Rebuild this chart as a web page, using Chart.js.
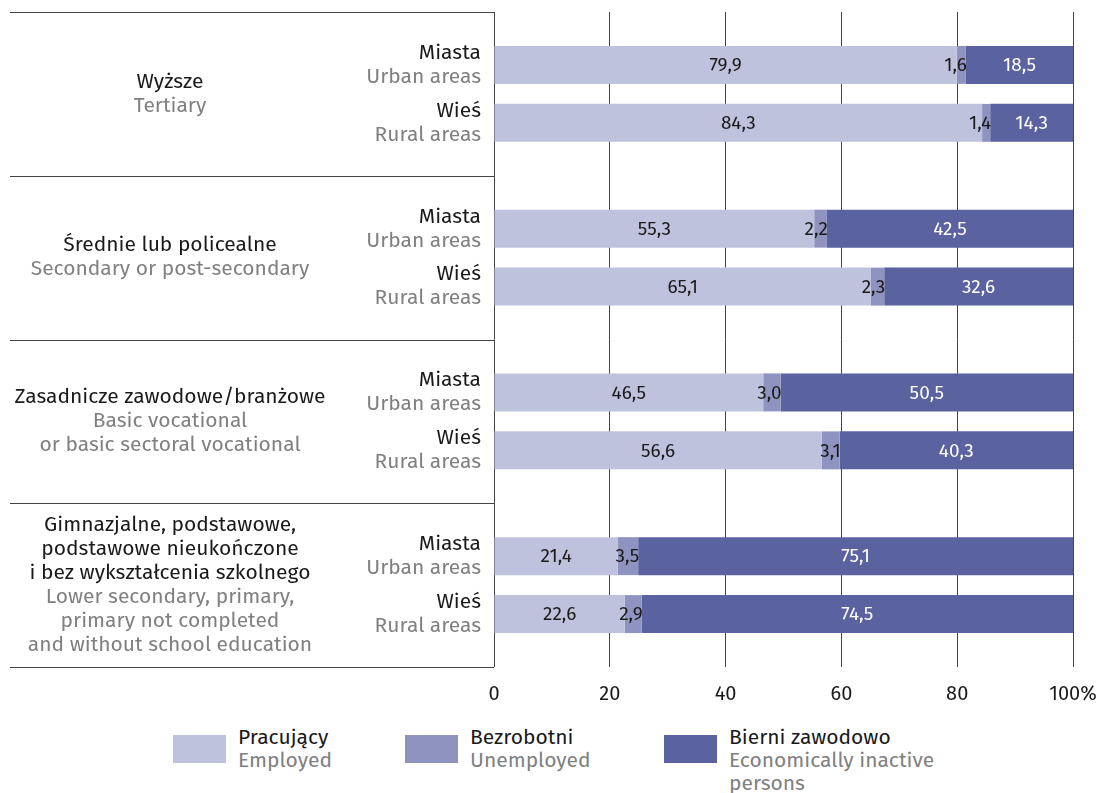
<!DOCTYPE html>
<html>
<head>
<meta charset="utf-8">
<script src="https://cdn.jsdelivr.net/npm/chart.js@4"></script>
<style>
    body { margin: 0; background: #fff; font-family: 'Fira Sans', 'Noto Sans', sans-serif; }
    .wrap { position: relative; width: 1109px; height: 793px; }
    .legend { position: absolute; top: 726px; left: 0; width: 1109px; }
    .item { position: absolute; top: 0; }
    .item .box { position: absolute; left: 0; top: 9px; width: 53px; height: 28px; }
    .item .txt { position: absolute; left: 65px; top: 0; font-size: 21px; line-height: 23px; color: #1a1a1a; white-space: nowrap; }
    .item .txt span { color: #808080; }
</style>
</head>
<body>
<div class="wrap">
    <canvas id="chart" width="1109" height="715"></canvas>
    <div class="legend" id="legend"></div>
</div>
<script>
// Dane
const groups = ['Wyższe', 'Średnie lub policealne', 'Zasadnicze zawodowe/branżowe', 'Gimnazjalne, podstawowe'];
const groupLabelsPl = [
    ['Wyższe'],
    ['Średnie lub policealne'],
    ['Zasadnicze zawodowe/branżowe'],
    ['Gimnazjalne, podstawowe,', 'podstawowe nieukończone', 'i bez wykształcenia szkolnego']
];
const groupLabelsEn = [
    ['Tertiary'],
    ['Secondary or post-secondary'],
    ['Basic vocational', 'or basic sectoral vocational'],
    ['Lower secondary, primary,', 'primary not completed', 'and without school education']
];
const areasPl = ['Miasta', 'Wieś'];
const areasEn = ['Urban areas', 'Rural areas'];

const employedUrban = [79.9, 55.3, 46.5, 21.4];
const unemployedUrban = [1.6, 2.2, 3.0, 3.5];
const inactiveUrban = [18.5, 42.5, 50.5, 75.1];
const employedRural = [84.3, 65.1, 56.6, 22.6];
const unemployedRural = [1.4, 2.3, 3.1, 2.9];
const inactiveRural = [14.3, 32.6, 40.3, 74.5];

const seriesPl = ['Pracujący', 'Bezrobotni', 'Bierni zawodowo'];
const seriesEn = ['Employed', 'Unemployed', 'Economically inactive<br>persons'];
const xTicks = [0, 20, 40, 60, 80, 100];

const colors = ['#bfc2dd', '#8f93c0', '#5a62a0'];
const FONT = "'Fira Sans', 'Noto Sans', sans-serif";

function fmt(v) {
    return v.toFixed(1).replace('.', ',');
}

function makeDataset(data, kind, stack) {
    return {
        label: seriesPl[kind],
        data: data,
        backgroundColor: colors[kind],
        stack: stack,
        kind: kind,
        categoryPercentage: 0.708,
        barPercentage: 0.655
    };
}

// Plugin: linie podziału, etykiety grup i wartości
const decorations = {
    id: 'decorations',
    afterDraw(chart) {
        const ctx = chart.ctx;
        const area = chart.chartArea;
        const yScale = chart.scales.y;
        const step = (area.bottom - area.top) / groups.length;

        ctx.save();
        // linie podziału
        ctx.strokeStyle = '#444';
        ctx.lineWidth = 1;
        for (let i = 0; i <= groups.length; i++) {
            const y = Math.round(area.top + i * step) + 0.5;
            ctx.beginPath();
            ctx.moveTo(10, y);
            ctx.lineTo(area.left, y);
            ctx.stroke();
        }

        // etykiety grup
        ctx.font = '21px ' + FONT;
        ctx.textAlign = 'center';
        ctx.textBaseline = 'middle';
        const lh = 24;
        groups.forEach((g, i) => {
            const cy = yScale.getPixelForValue(i);
            const lines = groupLabelsPl[i].map(t => [t, '#1a1a1a'])
                .concat(groupLabelsEn[i].map(t => [t, '#808080']));
            let y = cy - (lines.length - 1) * lh / 2;
            lines.forEach(([t, c]) => {
                ctx.fillStyle = c;
                ctx.fillText(t, 170, y);
                y += lh;
            });
        });

        // etykiety Miasta / Wieś
        ctx.textAlign = 'right';
        const urbanMeta = chart.getDatasetMeta(0);
        const ruralMeta = chart.getDatasetMeta(3);
        [urbanMeta, ruralMeta].forEach((meta, a) => {
            meta.data.forEach(bar => {
                ctx.fillStyle = '#1a1a1a';
                ctx.fillText(areasPl[a], area.left - 13, bar.y - 12);
                ctx.fillStyle = '#808080';
                ctx.fillText(areasEn[a], area.left - 13, bar.y + 12);
            });
        });

        // wartości
        ctx.font = '19px ' + FONT;
        chart.data.datasets.forEach((ds, di) => {
            const meta = chart.getDatasetMeta(di);
            meta.data.forEach((bar, i) => {
                const v = ds.data[i];
                if (ds.kind === 1) {
                    ctx.textAlign = 'right';
                    ctx.fillStyle = '#1a1a1a';
                    ctx.fillText(fmt(v), bar.x + 1, bar.y + 1);
                } else {
                    ctx.textAlign = 'center';
                    ctx.fillStyle = ds.kind === 2 ? '#ffffff' : '#1a1a1a';
                    ctx.fillText(fmt(v), (bar.x + bar.base) / 2, bar.y + 1);
                }
            });
        });
        ctx.restore();
    }
};

new Chart(document.getElementById('chart'), {
    type: 'bar',
    data: {
        labels: groups,
        datasets: [
            makeDataset(employedUrban, 0, 'urban'),
            makeDataset(unemployedUrban, 1, 'urban'),
            makeDataset(inactiveUrban, 2, 'urban'),
            makeDataset(employedRural, 0, 'rural'),
            makeDataset(unemployedRural, 1, 'rural'),
            makeDataset(inactiveRural, 2, 'rural')
        ]
    },
    options: {
        indexAxis: 'y',
        responsive: false,
        animation: false,
        devicePixelRatio: 1,
        layout: { padding: { top: 12, right: 36, left: 0, bottom: 0 } },
        plugins: {
            legend: { display: false },
            tooltip: { enabled: false }
        },
        scales: {
            x: {
                stacked: true,
                min: 0,
                max: 100,
                afterBuildTicks: s => { s.ticks = xTicks.map(v => ({ value: v })); },
                afterFit: s => { s.height = 48; s.paddingRight = 0; s.paddingLeft = 0; },
                grid: { color: '#444', lineWidth: 1, drawTicks: false },
                border: { display: false },
                ticks: {
                    padding: 15,
                    color: '#1a1a1a',
                    font: { family: FONT, size: 20 },
                    callback: v => v === 100 ? '100%' : v
                }
            },
            y: {
                stacked: true,
                afterFit: s => { s.width = 494; },
                grid: { display: false },
                border: { display: false },
                ticks: { display: false }
            }
        }
    },
    plugins: [decorations]
});

// Legenda
const legendPos = [173, 405, 664];
const legend = document.getElementById('legend');
seriesPl.forEach((name, i) => {
    const item = document.createElement('div');
    item.className = 'item';
    item.style.left = legendPos[i] + 'px';
    item.innerHTML = `<div class="box" style="background:${colors[i]}"></div>
        <div class="txt">${name}<br><span>${seriesEn[i]}</span></div>`;
    legend.appendChild(item);
});
</script>
</body>
</html>
